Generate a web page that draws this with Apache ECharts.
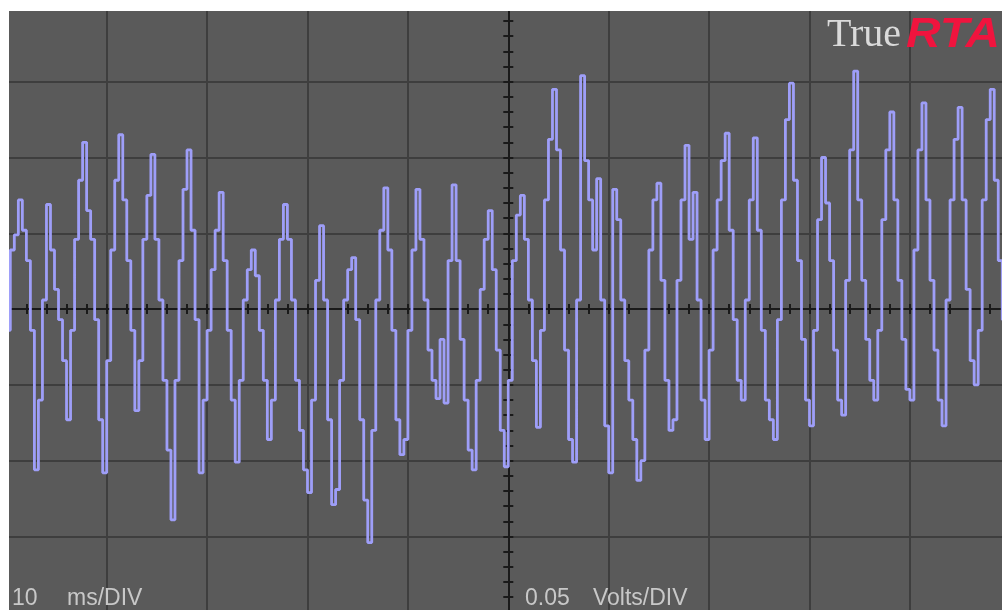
<!DOCTYPE html>
<html>
<head>
<meta charset="utf-8">
<script src="https://cdn.jsdelivr.net/npm/echarts@6/dist/echarts.min.js"></script>
<style>
html,body{margin:0;padding:0;background:#ffffff;overflow:hidden;}
#chart{width:1012px;height:620px;}
</style>
</head>
<body>
<div id="chart"></div>
<script>
// Oscilloscope settings
const timePerDiv = 10;        // ms per division
const voltsPerDiv = 0.05;     // volts per division
const timeDivs = 10;
const voltDivs = 8;
const minorPerDiv = 5;
const sampleMs = 0.4;         // sample spacing of the trace
const startMs = -50;          // trace start (screen centre = 0 ms)

// Trace samples (volts) left to right
const voltage = [
 -0.014, 0.039, 0.049, 0.072, 0.052, 0.032, -0.014, -0.106, -0.060, 0.006,
  0.069, 0.039, 0.013, -0.007, -0.034, -0.073, -0.014, 0.046, 0.085, 0.110,
  0.065, 0.046, -0.007, -0.073, -0.108, -0.034, 0.039, 0.085, 0.115, 0.072,
  0.032, -0.014, -0.067, -0.034, 0.046, 0.075, 0.102, 0.046, 0.006, -0.047,
 -0.093, -0.139, -0.047, 0.032, 0.079, 0.105, 0.052, -0.007, -0.108, -0.060,
 -0.014, 0.026, 0.052, 0.077, 0.032, -0.014, -0.060, -0.101, -0.047, 0.006,
  0.026, 0.039, 0.022, -0.014, -0.047, -0.086, -0.060, 0.006, 0.046, 0.069,
  0.046, 0.006, -0.047, -0.080, -0.106, -0.121, -0.060, 0.019, 0.055, 0.006,
 -0.073, -0.129, -0.119, -0.047, 0.006, 0.026, 0.034, -0.007, -0.073, -0.126,
 -0.154, -0.080, 0.006, 0.052, 0.080, 0.039, -0.014, -0.073, -0.096, -0.086,
 -0.014, 0.039, 0.079, 0.046, 0.006, -0.027, -0.047, -0.059, -0.020, -0.062,
  0.032, 0.082, 0.032, -0.020, -0.060, -0.093, -0.106, -0.047, 0.013, 0.046,
  0.065, 0.026, -0.027, -0.080, -0.104, -0.047, 0.032, 0.062, 0.075, 0.046,
  0.006, -0.034, -0.078, -0.014, 0.072, 0.112, 0.145, 0.105, 0.039, -0.027,
 -0.086, -0.101, 0.006, 0.154, 0.098, 0.072, 0.039, 0.086, 0.006, -0.077,
 -0.108, 0.079, 0.059, 0.006, -0.034, -0.060, -0.086, -0.113, -0.100, -0.027,
  0.039, 0.072, 0.083, 0.019, -0.047, -0.080, -0.073, 0.019, 0.072, 0.108,
  0.046, 0.077, 0.006, -0.060, -0.086, -0.027, 0.039, 0.072, 0.098, 0.116,
  0.052, -0.007, -0.047, -0.060, 0.006, 0.072, 0.113, 0.052, -0.014, -0.060,
 -0.073, -0.086, -0.007, 0.072, 0.125, 0.149, 0.085, 0.032, -0.020, -0.060,
 -0.077, -0.014, 0.059, 0.100, 0.070, 0.032, -0.027, -0.060, -0.070, 0.019,
  0.105, 0.157, 0.072, 0.019, -0.020, -0.047, -0.060, -0.014, 0.059, 0.105,
  0.130, 0.072, 0.019, -0.020, -0.053, -0.060, 0.039, 0.105, 0.136, 0.072,
  0.019, -0.027, -0.060, -0.077, 0.006, 0.072, 0.112, 0.133, 0.072, 0.013,
 -0.034, -0.050, -0.014, 0.072, 0.125, 0.145, 0.085, 0.032, -0.007, -0.027,
 -0.047
];

const traceData = voltage.map((v, i) => [startMs + i * sampleMs, v]);

const tMin = -timePerDiv * timeDivs / 2, tMax = timePerDiv * timeDivs / 2;
const vMin = -voltsPerDiv * voltDivs / 2, vMax = voltsPerDiv * voltDivs / 2;

const gridColor = '#3e3e3e';
const axisColor = '#1a1a1a';

function centreAxis(dimIsX, inside) {
  return {
    type: 'value',
    min: dimIsX ? tMin : vMin,
    max: dimIsX ? tMax : vMax,
    interval: (dimIsX ? timePerDiv : voltsPerDiv) / minorPerDiv,
    position: dimIsX ? 'bottom' : 'left',
    axisLine: { show: true, onZero: true, lineStyle: { color: axisColor, width: 2 } },
    axisTick: { show: true, inside: inside, length: 5, lineStyle: { color: axisColor, width: 2 } },
    axisLabel: { show: false },
    splitLine: { show: false }
  };
}

const labelFont = '23px "Liberation Sans", Arial, sans-serif';
const labelColor = '#c8c8c8';

const chart = echarts.init(document.getElementById('chart'), null, { renderer: 'canvas' });
chart.setOption({
  animation: false,
  backgroundColor: '#ffffff',
  grid: { left: 6.3, top: 5.9, width: 1004, height: 606.4, show: true, backgroundColor: '#5a5a5a', borderWidth: 0 },
  xAxis: [
    { type: 'value', min: tMin, max: tMax, interval: timePerDiv,
      axisLine: { show: false }, axisTick: { show: false }, axisLabel: { show: false },
      splitLine: { show: true, lineStyle: { color: gridColor, width: 2 } } },
    centreAxis(true, true),
    centreAxis(true, false)
  ],
  yAxis: [
    { type: 'value', min: vMin, max: vMax, interval: voltsPerDiv,
      axisLine: { show: false }, axisTick: { show: false }, axisLabel: { show: false },
      splitLine: { show: true, lineStyle: { color: gridColor, width: 2 } } },
    centreAxis(false, true),
    centreAxis(false, false)
  ],
  series: [{
    type: 'line',
    xAxisIndex: 0, yAxisIndex: 0,
    data: traceData,
    step: 'end',
    showSymbol: false,
    lineStyle: { color: '#9e9ef8', width: 2.8 },
    z: 5
  }],
  graphic: [
    { type: 'rect', z: 100, shape: { x: 0, y: 0, width: 1012, height: 11 }, style: { fill: '#ffffff' } },
    { type: 'rect', z: 100, shape: { x: 0, y: 0, width: 9, height: 620 }, style: { fill: '#ffffff' } },
    { type: 'text', z: 101, style: { x: 827, y: 35, text: 'True', font: '40px "Liberation Serif", serif', fill: '#dadada', textVerticalAlign: 'middle' } },
    { type: 'text', z: 101, x: 906, y: 35, scaleX: 1.14, style: { x: 0, y: 0, text: 'RTA', font: 'italic bold 42px "Liberation Sans", Arial, sans-serif', fill: '#f0143e', textVerticalAlign: 'middle' } },
    { type: 'text', z: 101, style: { x: 12, y: 598.5, text: String(timePerDiv), font: labelFont, fill: labelColor, textVerticalAlign: 'middle' } },
    { type: 'text', z: 101, style: { x: 67, y: 598.5, text: 'ms/DIV', font: labelFont, fill: labelColor, textVerticalAlign: 'middle' } },
    { type: 'text', z: 101, style: { x: 525, y: 598.5, text: voltsPerDiv.toFixed(2), font: labelFont, fill: labelColor, textVerticalAlign: 'middle' } },
    { type: 'text', z: 101, style: { x: 593, y: 598.5, text: 'Volts/DIV', font: labelFont, fill: labelColor, textVerticalAlign: 'middle' } }
  ]
});
</script>
</body>
</html>
